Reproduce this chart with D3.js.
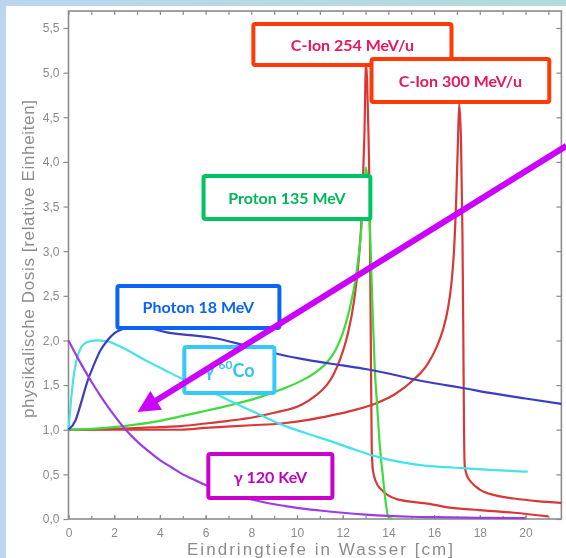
<!DOCTYPE html>
<html>
<head>
<meta charset="utf-8">
<script src="https://cdn.jsdelivr.net/npm/d3@7"></script>
<style>
  html, body { margin: 0; padding: 0; background: #fff; }
  svg { display: block; }
</style>
</head>
<body>
<svg id="chart" width="566" height="558"></svg>
<script>
// Depth-dose curves in water: [depth in cm, relative dose]
const cIon300 = [[0,1.0],[2,1.0],[4,1.0],[4.9,1.0],[6,1.02],[8,1.05],[9.3,1.07],[10.5,1.11],[11.5,1.16],[12.5,1.22],[13.5,1.3],[14.3,1.4],[15.1,1.56],[15.7,1.73],[16.1,1.92],[16.4,2.13],[16.6,2.35],[16.75,2.62],[16.87,3.0],[16.97,3.6],[17.04,4.2],[17.1,4.65],[17.18,4.2],[17.24,3.2],[17.28,2.0],[17.31,1.0],[17.34,0.6],[17.42,0.5],[17.6,0.42],[18,0.33],[18.6,0.27],[19.5,0.23],[20.5,0.2],[21.57,0.18]];
const cIon254 = [[0,1.0],[2,1.01],[4,1.03],[4.9,1.04],[6,1.07],[7,1.1],[8.1,1.14],[9,1.19],[10.2,1.28],[10.8,1.38],[11.3,1.5],[11.6,1.62],[11.9,1.8],[12.2,2.05],[12.5,2.45],[12.7,2.9],[12.85,3.5],[12.95,4.3],[13.02,5.1],[13.1,4.6],[13.18,3.5],[13.23,2.0],[13.27,0.8],[13.32,0.55],[13.45,0.42],[13.65,0.34],[14.4,0.22],[15.8,0.17],[16.6,0.13],[18,0.1],[19.5,0.07],[21,0.03]];
const proton135 = [[0,1.0],[1,1.01],[2,1.03],[3,1.06],[4,1.1],[4.9,1.15],[5.8,1.2],[7,1.27],[8.3,1.36],[9.3,1.45],[10.2,1.55],[10.8,1.64],[11.3,1.75],[11.7,1.9],[12.0,2.08],[12.3,2.35],[12.6,2.75],[12.8,3.2],[12.93,3.65],[13.02,3.94],[13.1,3.75],[13.2,3.2],[13.3,2.4],[13.4,1.7],[13.5,1.3],[13.6,0.9],[13.75,0.5],[13.9,0.15],[14.0,0.02],[14.2,0]];
const gammaCo60 = [[0,1.0],[0.1,1.3],[0.2,1.55],[0.35,1.78],[0.55,1.92],[0.8,1.98],[1.2,2.0],[1.7,1.99],[2.2,1.94],[2.8,1.86],[3.5,1.76],[4.2,1.67],[4.9,1.58],[5.6,1.5],[6.3,1.42],[7.1,1.32],[8.2,1.19],[9.3,1.06],[10.4,0.96],[11.5,0.87],[12.5,0.78],[13.6,0.69],[14.5,0.64],[15.5,0.6],[16.5,0.58],[17.3,0.57],[18.5,0.55],[20.1,0.53]];
const photon18 = [[0,1.0],[0.3,1.1],[0.55,1.3],[0.8,1.52],[1.1,1.72],[1.4,1.89],[1.7,2.0],[2.0,2.08],[2.4,2.13],[2.8,2.16],[3.5,2.14],[4.3,2.09],[5.3,2.06],[6.3,2.03],[7.5,1.96],[8.5,1.89],[9.3,1.84],[10.5,1.78],[12,1.72],[13,1.68],[14,1.63],[15.2,1.56],[16.5,1.5],[17.2,1.47],[18.5,1.41],[20,1.35],[21.57,1.29]];
const gamma120 = [[0,2.0],[0.5,1.76],[1,1.54],[1.5,1.34],[2,1.16],[2.5,1.0],[3,0.87],[3.5,0.76],[4,0.66],[4.5,0.58],[5,0.5],[5.5,0.44],[6,0.38],[6.5,0.33],[7,0.29],[7.5,0.25],[8,0.22],[8.5,0.19],[9,0.165],[9.5,0.145],[10,0.125],[11,0.095],[12,0.07],[13,0.05],[14,0.035],[15,0.025],[16,0.02],[18,0.013],[20,0.01]];

// Axis ticks
const xTickLabels = [0, 2, 4, 6, 8, 10, 12, 14, 16, 18, 20];
const xMinorTicks = [0,1,2,3,4,5,6,7,8,9,10,11,12,13,14,15,16,17,18,19,20,21];
const yTickLabels = [0, 0.5, 1.0, 1.5, 2.0, 2.5, 3.0, 3.5, 4.0, 4.5, 5.0, 5.5];

// Series drawing order and colours
const seriesList = [
  { data: cIon300,   color: "#d93838" },
  { data: cIon254,   color: "#d93838" },
  { data: proton135, color: "#3ddc3d" },
  { data: gammaCo60, color: "#45e2ea" },
  { data: photon18,  color: "#3d3dc2" },
  { data: gamma120,  color: "#9b3ee0" }
];

// Labelled boxes, placed in data units: [x0, yTop, x1, yBottom]
const labels = [
  { text: "C-Ion 254 MeV/u", box: [8.09, 5.545, 16.76, 5.086], stroke: "#ff3a06", fill: "#e8185c" },
  { text: "C-Ion 300 MeV/u", box: [13.26, 5.153, 21.04, 4.671], stroke: "#ff3a06", fill: "#e8185c" },
  { text: "Proton 135 MeV",  box: [5.91, 3.842, 13.21, 3.361], stroke: "#00c463", fill: "#00b85a" },
  { text: "Photon 18 MeV",   box: [2.14, 2.610, 9.23, 2.140],  stroke: "#0a64f5", fill: "#0a64f5" },
  { text: "γ 120 KeV",       box: [6.12, 0.728, 11.55, 0.235], stroke: "#cc00cc", fill: "#c000c0" },
  { text: "CO60",            box: [5.07, 1.927, 9.01, 1.411],  stroke: "#35c8fb", fill: "#35c3f3" }
];

// Pointer arrow, from the right edge to the low-energy region
const arrowFrom = [21.79, 4.18];
const arrowTo = [3.02, 1.198];

const svg = d3.select("#chart");
const W = 566, H = 558;

// Page background and frame band
const defs = svg.append("defs");
const grad = defs.append("linearGradient").attr("id", "topband").attr("x1", "0%").attr("x2", "100%");
grad.append("stop").attr("offset", "0%").attr("stop-color", "#bcd5ee");
grad.append("stop").attr("offset", "100%").attr("stop-color", "#b2dbd8");
defs.append("filter").attr("id", "soft")
  .append("feGaussianBlur").attr("stdDeviation", 0.45);

svg.append("rect").attr("width", W).attr("height", H).attr("fill", "#bdd6ee");
svg.append("rect").attr("x", 0).attr("y", 0).attr("width", W).attr("height", 6).attr("fill", "url(#topband)");
svg.append("rect").attr("x", 6).attr("y", 6).attr("width", W - 6).attr("height", H - 6).attr("fill", "#ffffff");

// Scales
const x = d3.scaleLinear().domain([0, 20]).range([68.5, 525.5]);
const y = d3.scaleLinear().domain([0, 5.5]).range([519, 28]);
const xMax = 21.57, yMax = 5.69;

const chart = svg.append("g").attr("filter", "url(#soft)");
const axisColor = "#8c8c8c";
const fmt = d => d3.format(".1f")(d).replace(".", ",");

// Frame
chart.append("rect")
  .attr("x", x(0)).attr("y", y(yMax))
  .attr("width", x(xMax) - x(0)).attr("height", y(0) - y(yMax))
  .attr("fill", "none").attr("stroke", axisColor).attr("stroke-width", 1.6);

function styleAxis(g) {
  g.select(".domain").remove();
  g.selectAll(".tick line").attr("stroke", axisColor).attr("stroke-width", 1.2);
  g.selectAll(".tick text").attr("fill", "#8a8a8a")
    .attr("font-family", "'Liberation Sans', Arial, sans-serif").attr("font-size", 12);
}

// Left axis: outward ticks with labels
chart.append("g").attr("transform", `translate(${x(0)},0)`)
  .call(d3.axisLeft(y).tickValues(yTickLabels).tickSize(5).tickPadding(4).tickFormat(fmt))
  .call(styleAxis);

// Right axis: inward ticks
chart.append("g").attr("transform", `translate(${x(xMax)},0)`)
  .call(d3.axisRight(y).tickValues(yTickLabels).tickSize(-5).tickFormat(""))
  .call(styleAxis);

// Bottom axis: inward minor ticks, labels every 2 cm
chart.append("g").attr("transform", `translate(0,${y(0)})`)
  .call(d3.axisBottom(x).tickValues(xMinorTicks).tickSize(-3).tickFormat(""))
  .call(styleAxis);
chart.append("g").attr("transform", `translate(0,${y(0)})`)
  .call(d3.axisBottom(x).tickValues(xTickLabels).tickSize(-4).tickPadding(9).tickFormat(d3.format("d")))
  .call(styleAxis);

// Top axis: inward ticks
chart.append("g").attr("transform", `translate(0,${y(yMax)})`)
  .call(d3.axisTop(x).tickValues(xMinorTicks).tickSize(-4).tickFormat(""))
  .call(styleAxis);

// Axis titles
chart.append("text")
  .attr("x", 320).attr("y", 555)
  .attr("text-anchor", "middle")
  .attr("font-family", "'Liberation Sans', Arial, sans-serif").attr("font-size", 17)
  .attr("fill", "#8c8c8c")
  .attr("textLength", 266).attr("lengthAdjust", "spacing")
  .text("Eindringtiefe in Wasser [cm]");

chart.append("text")
  .attr("transform", "translate(34,259) rotate(-90)")
  .attr("text-anchor", "middle")
  .attr("font-family", "'Liberation Sans', Arial, sans-serif").attr("font-size", 17)
  .attr("fill", "#8c8c8c")
  .attr("textLength", 318).attr("lengthAdjust", "spacing")
  .text("physikalische Dosis [relative Einheiten]");

// Curves
const line = d3.line()
  .x(d => x(d[0])).y(d => y(d[1]))
  .curve(d3.curveMonotoneX);

chart.append("g").selectAll("path")
  .data(seriesList)
  .join("path")
  .attr("d", s => line(s.data))
  .attr("fill", "none")
  .attr("stroke", s => s.color)
  .attr("stroke-width", 2.2)
  .attr("stroke-linejoin", "round");

// Labelled boxes
const boxG = svg.append("g");
labels.forEach(l => {
  const [bx0, by0, bx1, by1] = l.box;
  const px0 = x(bx0), px1 = x(bx1), py0 = y(by0), py1 = y(by1);
  const g = boxG.append("g");
  g.append("rect")
    .attr("x", px0).attr("y", py0)
    .attr("width", px1 - px0).attr("height", py1 - py0)
    .attr("rx", 2)
    .attr("fill", "#ffffff").attr("stroke", l.stroke).attr("stroke-width", 4);
  const t = g.append("text")
    .attr("x", (px0 + px1) / 2).attr("y", (py0 + py1) / 2)
    .attr("text-anchor", "middle").attr("dominant-baseline", "central")
    .attr("font-family", "Lato, 'Open Sans', sans-serif").attr("font-weight", 700)
    .attr("font-size", 16).attr("fill", l.fill);
  if (l.text === "CO60") {
    t.attr("font-size", 18);
    t.append("tspan").text("γ ");
    t.append("tspan").attr("font-size", 12).attr("dy", -6).text("60");
    t.append("tspan").attr("dy", 6).text("Co");
  } else {
    t.text(l.text);
  }
});

// Arrow
const ax0 = x(arrowFrom[0]), ay0 = y(arrowFrom[1]);
const ax1 = x(arrowTo[0]), ay1 = y(arrowTo[1]);
const len = Math.hypot(ax0 - ax1, ay0 - ay1);
const ux = (ax0 - ax1) / len, uy = (ay0 - ay1) / len;
const headL = 22, headW = 11;
const bx = ax1 + ux * headL, by = ay1 + uy * headL;
const arrowColor = "#cc00ff";
svg.append("line")
  .attr("x1", ax0).attr("y1", ay0).attr("x2", bx - ux * 2).attr("y2", by - uy * 2)
  .attr("stroke", arrowColor).attr("stroke-width", 6);
svg.append("path")
  .attr("d", `M${ax1},${ay1}L${bx - uy * headW},${by + ux * headW}L${bx + uy * headW},${by - ux * headW}Z`)
  .attr("fill", arrowColor);
</script>
</body>
</html>
